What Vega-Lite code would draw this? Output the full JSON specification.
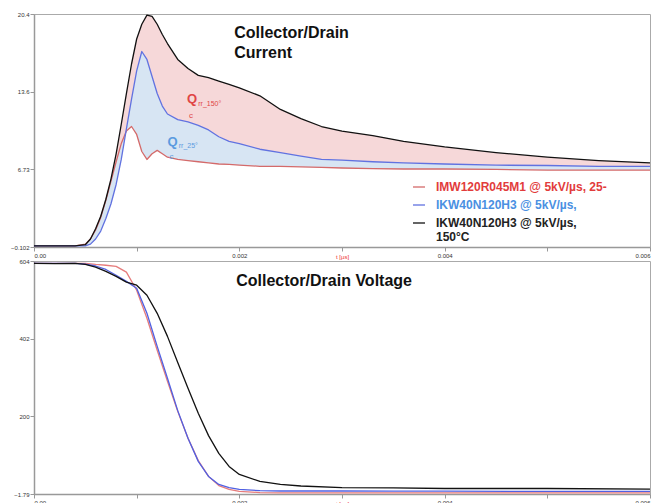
{
  "$schema": "https://vega.github.io/schema/vega-lite/v6.json",
  "padding": {"left": 9, "top": 10, "right": 0, "bottom": 0},
  "background": "white",
  "spacing": 14,
  "bounds": "flush",
  "config": {
    "view": {"stroke": "#aaaaaa", "strokeWidth": 1},
    "font": "Liberation Sans",
    "axis": {"grid": false, "domainColor": "#999999", "domainWidth": 1.5, "tickColor": "#999999", "tickSize": 4, "labelFontSize": 6, "labelColor": "#333333", "labelPadding": 1, "titleFontSize": 6}
  },
  "datasets": {
    "current": [
      {"t": 0, "mosfet25": 0, "igbt25": 0, "igbt150": 0},
      {"t": 0.0002, "mosfet25": 0, "igbt25": 0, "igbt150": 0},
      {"t": 0.0004, "mosfet25": 0, "igbt25": 0, "igbt150": 0},
      {"t": 0.0005, "mosfet25": 0.15, "igbt25": 0, "igbt150": 0.1},
      {"t": 0.00055, "mosfet25": 0.6, "igbt25": 0.15, "igbt150": 0.6},
      {"t": 0.0006, "mosfet25": 1.4, "igbt25": 0.6, "igbt150": 1.5},
      {"t": 0.00065, "mosfet25": 2.5, "igbt25": 1.3, "igbt150": 2.6},
      {"t": 0.0007, "mosfet25": 4.0, "igbt25": 2.4, "igbt150": 4.1},
      {"t": 0.00075, "mosfet25": 5.7, "igbt25": 3.7, "igbt150": 5.9},
      {"t": 0.0008, "mosfet25": 7.4, "igbt25": 5.4, "igbt150": 8.1},
      {"t": 0.00085, "mosfet25": 9.0, "igbt25": 7.6, "igbt150": 10.7},
      {"t": 0.0009, "mosfet25": 10.1, "igbt25": 10.3, "igbt150": 13.4},
      {"t": 0.00095, "mosfet25": 10.5, "igbt25": 12.9, "igbt150": 16.0},
      {"t": 0.001, "mosfet25": 9.8, "igbt25": 15.4, "igbt150": 18.2},
      {"t": 0.00105, "mosfet25": 8.3, "igbt25": 17.1, "igbt150": 19.5},
      {"t": 0.0011, "mosfet25": 7.6, "igbt25": 16.4, "igbt150": 20.3},
      {"t": 0.00115, "mosfet25": 8.1, "igbt25": 14.9, "igbt150": 20.2},
      {"t": 0.0012, "mosfet25": 8.4, "igbt25": 13.4, "igbt150": 19.5},
      {"t": 0.00125, "mosfet25": 8.1, "igbt25": 12.3, "igbt150": 18.6},
      {"t": 0.0013, "mosfet25": 7.8, "igbt25": 11.6, "igbt150": 17.8},
      {"t": 0.0014, "mosfet25": 7.6, "igbt25": 11.1, "igbt150": 16.4},
      {"t": 0.0015, "mosfet25": 7.5, "igbt25": 10.9, "igbt150": 15.6},
      {"t": 0.0016, "mosfet25": 7.4, "igbt25": 10.6, "igbt150": 15.0},
      {"t": 0.0017, "mosfet25": 7.3, "igbt25": 10.2, "igbt150": 14.8},
      {"t": 0.0018, "mosfet25": 7.2, "igbt25": 9.6, "igbt150": 14.5},
      {"t": 0.0019, "mosfet25": 7.16, "igbt25": 9.2, "igbt150": 14.2},
      {"t": 0.002, "mosfet25": 7.1, "igbt25": 9.0, "igbt150": 13.9},
      {"t": 0.0022, "mosfet25": 7.0, "igbt25": 8.5, "igbt150": 13.2},
      {"t": 0.0024, "mosfet25": 7.0, "igbt25": 8.2, "igbt150": 12.0},
      {"t": 0.0026, "mosfet25": 6.94, "igbt25": 7.9, "igbt150": 11.2},
      {"t": 0.0028, "mosfet25": 6.9, "igbt25": 7.6, "igbt150": 10.5},
      {"t": 0.003, "mosfet25": 6.85, "igbt25": 7.55, "igbt150": 10.1},
      {"t": 0.0033, "mosfet25": 6.8, "igbt25": 7.4, "igbt150": 9.7},
      {"t": 0.0036, "mosfet25": 6.76, "igbt25": 7.3, "igbt150": 9.2},
      {"t": 0.004, "mosfet25": 6.76, "igbt25": 7.2, "igbt150": 8.7},
      {"t": 0.0045, "mosfet25": 6.72, "igbt25": 7.1, "igbt150": 8.2},
      {"t": 0.005, "mosfet25": 6.67, "igbt25": 7.07, "igbt150": 7.8},
      {"t": 0.0055, "mosfet25": 6.67, "igbt25": 7.0, "igbt150": 7.5},
      {"t": 0.006, "mosfet25": 6.67, "igbt25": 7.0, "igbt150": 7.3}
    ],
    "voltage": [
      {"t": 0, "mosfet25": 598, "igbt25": 598, "igbt150": 598},
      {"t": 0.0002, "mosfet25": 598, "igbt25": 598, "igbt150": 597},
      {"t": 0.0004, "mosfet25": 598, "igbt25": 598, "igbt150": 598},
      {"t": 0.0005, "mosfet25": 598, "igbt25": 596, "igbt150": 595},
      {"t": 0.0006, "mosfet25": 595, "igbt25": 591, "igbt150": 588},
      {"t": 0.0007, "mosfet25": 593, "igbt25": 582, "igbt150": 577},
      {"t": 0.0008, "mosfet25": 590, "igbt25": 567, "igbt150": 564},
      {"t": 0.0009, "mosfet25": 575, "igbt25": 551, "igbt150": 549},
      {"t": 0.001, "mosfet25": 528, "igbt25": 533, "igbt150": 541},
      {"t": 0.0011, "mosfet25": 455, "igbt25": 468, "igbt150": 515},
      {"t": 0.0012, "mosfet25": 372, "igbt25": 382, "igbt150": 468},
      {"t": 0.0013, "mosfet25": 291, "igbt25": 299, "igbt150": 408},
      {"t": 0.0014, "mosfet25": 213, "igbt25": 215, "igbt150": 340},
      {"t": 0.0015, "mosfet25": 143, "igbt25": 143, "igbt150": 273},
      {"t": 0.0016, "mosfet25": 85, "igbt25": 83, "igbt150": 208},
      {"t": 0.0017, "mosfet25": 44, "igbt25": 44, "igbt150": 150},
      {"t": 0.0018, "mosfet25": 20, "igbt25": 23, "igbt150": 104},
      {"t": 0.0019, "mosfet25": 10, "igbt25": 15, "igbt150": 70},
      {"t": 0.002, "mosfet25": 5, "igbt25": 10, "igbt150": 49},
      {"t": 0.0022, "mosfet25": 2, "igbt25": 7, "igbt150": 31},
      {"t": 0.0024, "mosfet25": 1, "igbt25": 6, "igbt150": 23},
      {"t": 0.0026, "mosfet25": 1, "igbt25": 6, "igbt150": 19},
      {"t": 0.003, "mosfet25": 1, "igbt25": 6, "igbt150": 15},
      {"t": 0.0035, "mosfet25": 1, "igbt25": 5.5, "igbt150": 14},
      {"t": 0.004, "mosfet25": 1, "igbt25": 5.5, "igbt150": 12.5},
      {"t": 0.005, "mosfet25": 1, "igbt25": 5, "igbt150": 12.5},
      {"t": 0.006, "mosfet25": 1, "igbt25": 5, "igbt150": 11}
    ],
    "notes": [{"note": "annotation"}]
  },
  "resolve": {"scale": {"color": "independent", "strokeWidth": "independent"}, "legend": {"color": "independent"}},
  "vconcat": [
    {
      "width": 616,
      "height": 233,
      "layer": [
        {
          "data": {"name": "current"},
          "mark": {"type": "area", "color": "#f6d8d9", "opacity": 1},
          "encoding": {
            "x": {"field": "t", "type": "quantitative", "scale": {"domain": [0, 0.006], "nice": false},
              "axis": {"values": [0, 0.001, 0.002, 0.003, 0.004, 0.005, 0.006], "labelExpr": "datum.value == 0 ? '0.00' : (round(datum.value * 1000) % 2 == 0 ? format(datum.value, '.3f') : '')", "title": "t [µs]", "titleColor": "#ee3333", "titleY": 9, "titleBaseline": "middle", "titleFontWeight": "normal"}},
            "y": {"field": "igbt150", "type": "quantitative", "scale": {"domain": [-0.102, 20.4], "nice": false, "zero": false},
              "axis": {"values": [-0.102, 6.732, 13.566, 20.4], "labelExpr": "format(datum.value, '.3~r')", "title": null}},
            "y2": {"field": "igbt25"}
          }
        },
        {
          "data": {"name": "current"},
          "mark": {"type": "area", "color": "#d7e5f3", "opacity": 1},
          "encoding": {
            "x": {"field": "t", "type": "quantitative"},
            "y": {"field": "igbt25", "type": "quantitative"},
            "y2": {"field": "mosfet25"}
          }
        },
        {
          "data": {"name": "current"},
          "transform": [{"fold": ["mosfet25", "igbt25", "igbt150"], "as": ["series", "value"]}],
          "mark": {"type": "line", "strokeJoin": "round"},
          "encoding": {
            "x": {"field": "t", "type": "quantitative"},
            "y": {"field": "value", "type": "quantitative"},
            "color": {"field": "series", "type": "nominal",
              "scale": {"domain": ["mosfet25", "igbt25", "igbt150"], "range": ["#d46a6a", "#6172e0", "#111111"]},
              "legend": {"orient": "none", "legendX": 378, "legendY": 166, "title": null, "symbolType": "stroke", "symbolSize": 144, "symbolStrokeWidth": 1.5,
                "labelFontSize": 12, "labelFontWeight": "bold", "labelFont": "Liberation Sans", "labelBaseline": "alphabetic", "labelOffset": 10, "rowPadding": 5, "labelLimit": 400,
                "labelExpr": "datum.value == 'igbt150' ? ['IKW40N120H3 @ 5kV/µs,', '150°C'] : (datum.value == 'igbt25' ? 'IKW40N120H3 @ 5kV/µs,' : 'IMW120R045M1 @ 5kV/µs, 25-')",
                "encode": {
                  "labels": {"update": {"fill": {"signal": "datum.value == 'mosfet25' ? '#e23c3c' : (datum.value == 'igbt25' ? '#4a90e2' : '#222222')"}, "dy": {"value": 4}}},
                  "symbols": {"update": {"stroke": {"signal": "datum.value == 'mosfet25' ? '#e23c3c' : (datum.value == 'igbt25' ? '#4a90e2' : '#222222')"}}}
                }}
            },
            "strokeWidth": {"field": "series", "type": "nominal", "scale": {"domain": ["mosfet25", "igbt25", "igbt150"], "range": [1.3, 1.3, 2.8]}, "legend": null}
          }
        },
        {
          "data": {"name": "notes"},
          "mark": {"type": "text", "text": ["Collector/Drain", "Current"], "align": "left", "baseline": "middle", "fontSize": 16, "fontWeight": "bold", "lineHeight": 20, "color": "#111111"},
          "encoding": {"x": {"datum": 0.00195, "type": "quantitative"}, "y": {"datum": 18.7, "type": "quantitative"}}
        },
        {
          "data": {"name": "notes"},
          "mark": {"type": "text", "text": "Q", "align": "left", "baseline": "middle", "fontSize": 13, "fontWeight": "bold", "color": "#e04545"},
          "encoding": {"x": {"datum": 0.00149, "type": "quantitative"}, "y": {"datum": 12.92, "type": "quantitative"}}
        },
        {
          "data": {"name": "notes"},
          "mark": {"type": "text", "text": "rr_150°", "align": "left", "baseline": "middle", "fontSize": 7, "color": "#e04545"},
          "encoding": {"x": {"datum": 0.0016, "type": "quantitative"}, "y": {"datum": 12.5, "type": "quantitative"}}
        },
        {
          "data": {"name": "notes"},
          "mark": {"type": "text", "text": "c", "align": "left", "baseline": "middle", "fontSize": 8, "color": "#e04545"},
          "encoding": {"x": {"datum": 0.00151, "type": "quantitative"}, "y": {"datum": 11.42, "type": "quantitative"}}
        },
        {
          "data": {"name": "notes"},
          "mark": {"type": "text", "text": "Q", "align": "left", "baseline": "middle", "fontSize": 13, "fontWeight": "bold", "color": "#5b9be0"},
          "encoding": {"x": {"datum": 0.0013, "type": "quantitative"}, "y": {"datum": 9.14, "type": "quantitative"}}
        },
        {
          "data": {"name": "notes"},
          "mark": {"type": "text", "text": "rr_25°", "align": "left", "baseline": "middle", "fontSize": 7, "color": "#5b9be0"},
          "encoding": {"x": {"datum": 0.00141, "type": "quantitative"}, "y": {"datum": 8.75, "type": "quantitative"}}
        },
        {
          "data": {"name": "notes"},
          "mark": {"type": "text", "text": "c", "align": "left", "baseline": "middle", "fontSize": 8, "color": "#5b9be0"},
          "encoding": {"x": {"datum": 0.00132, "type": "quantitative"}, "y": {"datum": 7.82, "type": "quantitative"}}
        }
      ]
    },
    {
      "width": 616,
      "height": 233,
      "layer": [
        {
          "data": {"name": "voltage"},
          "transform": [{"fold": ["mosfet25", "igbt25", "igbt150"], "as": ["series", "value"]}],
          "mark": {"type": "line", "strokeJoin": "round"},
          "encoding": {
            "x": {"field": "t", "type": "quantitative", "scale": {"domain": [0, 0.006], "nice": false},
              "axis": {"values": [0, 0.001, 0.002, 0.003, 0.004, 0.005, 0.006], "labelExpr": "datum.value == 0 ? '0.00' : (round(datum.value * 1000) % 2 == 0 ? format(datum.value, '.3f') : '')", "title": "t [µs]", "titleColor": "#ee3333", "titleY": 9, "titleBaseline": "middle", "titleFontWeight": "normal"}},
            "y": {"field": "value", "type": "quantitative", "scale": {"domain": [-1.79, 604], "nice": false, "zero": false},
              "axis": {"values": [-1.79, 200.14, 402.07, 604], "labelExpr": "format(datum.value, '.3~r')", "title": null}},
            "color": {"field": "series", "type": "nominal",
              "scale": {"domain": ["mosfet25", "igbt25", "igbt150"], "range": ["#e67c7c", "#5060e2", "#111111"]}, "legend": null},
            "strokeWidth": {"field": "series", "type": "nominal", "scale": {"domain": ["mosfet25", "igbt25", "igbt150"], "range": [1.3, 1.3, 2.8]}, "legend": null}
          }
        },
        {
          "data": {"name": "notes"},
          "mark": {"type": "text", "text": "Collector/Drain Voltage", "align": "left", "baseline": "middle", "fontSize": 16, "fontWeight": "bold", "color": "#111111"},
          "encoding": {"x": {"datum": 0.00197, "type": "quantitative"}, "y": {"datum": 551, "type": "quantitative"}}
        }
      ]
    }
  ]
}
